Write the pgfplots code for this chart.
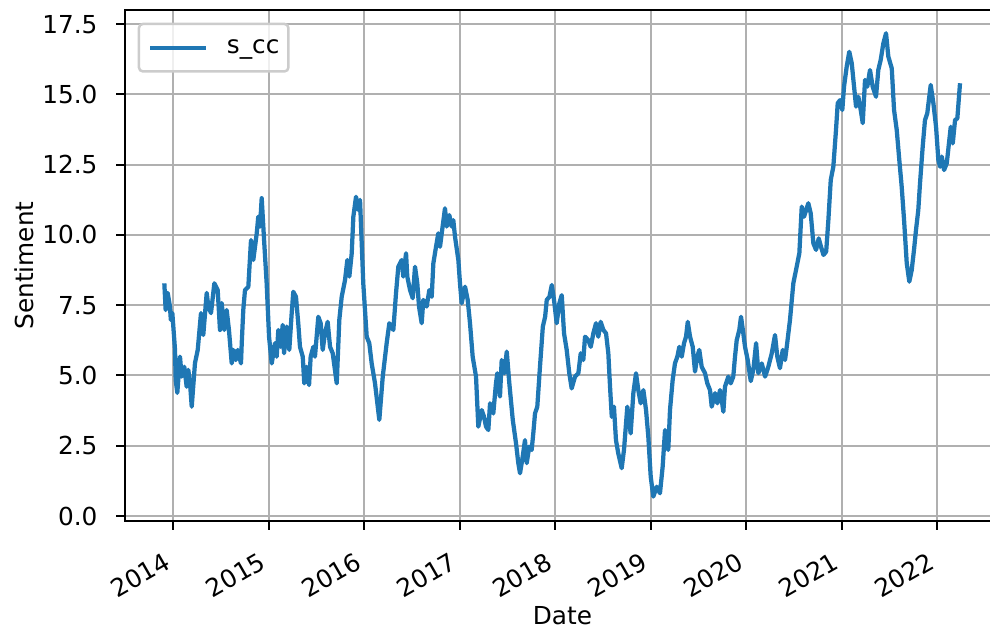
\documentclass[border=0pt]{standalone}
\usepackage{fontspec}
\setmainfont{DejaVu Sans}
\usepackage{pgfplots}
\pgfplotsset{compat=1.18}
\usetikzlibrary{calc}
\definecolor{tabblue}{RGB}{31,119,180}
\definecolor{gridgray}{RGB}{176,176,176}
\definecolor{legedge}{RGB}{204,204,204}
\pgfplotstableread{
x y
2013.906 8.28
2013.920 7.33
2013.941 7.94
2013.965 7.45
2013.974 6.98
2013.990 7.22
2014.018 5.91
2014.025 4.84
2014.042 4.38
2014.070 5.67
2014.088 4.96
2014.115 5.31
2014.140 4.60
2014.157 5.20
2014.175 4.73
2014.193 3.89
2014.227 5.44
2014.256 5.91
2014.290 7.22
2014.314 6.44
2014.350 7.94
2014.367 7.45
2014.395 7.22
2014.430 8.28
2014.465 8.04
2014.489 6.62
2014.507 7.58
2014.534 6.62
2014.559 7.33
2014.583 6.62
2014.612 5.43
2014.629 5.91
2014.654 5.55
2014.675 5.91
2014.709 5.43
2014.717 6.15
2014.733 7.33
2014.751 8.04
2014.786 8.16
2014.814 9.82
2014.838 9.11
2014.874 10.06
2014.890 10.65
2014.908 10.30
2014.926 11.31
2014.953 9.70
2014.978 8.28
2015.003 6.38
2015.031 5.43
2015.065 6.15
2015.083 5.67
2015.100 6.62
2015.125 6.02
2015.146 6.80
2015.160 5.79
2015.188 6.74
2015.215 5.91
2015.240 7.21
2015.257 7.98
2015.285 7.80
2015.309 6.86
2015.327 6.02
2015.356 5.67
2015.372 4.72
2015.397 5.31
2015.422 4.66
2015.439 5.67
2015.467 6.02
2015.484 5.67
2015.519 7.09
2015.544 6.86
2015.565 5.91
2015.589 6.50
2015.617 6.91
2015.642 6.02
2015.670 5.79
2015.712 4.72
2015.739 6.98
2015.764 7.80
2015.799 8.40
2015.823 9.11
2015.844 8.52
2015.869 9.35
2015.886 10.65
2015.914 11.36
2015.938 10.89
2015.956 11.25
2015.990 8.28
2016.026 6.38
2016.053 6.15
2016.078 5.43
2016.113 4.72
2016.158 3.42
2016.194 4.96
2016.235 6.15
2016.263 6.86
2016.305 6.62
2016.333 7.93
2016.357 8.87
2016.393 9.11
2016.409 8.52
2016.438 9.35
2016.451 8.52
2016.480 8.04
2016.508 7.75
2016.532 8.87
2016.556 8.28
2016.574 7.45
2016.602 6.86
2016.619 7.69
2016.654 7.45
2016.682 8.04
2016.707 7.80
2016.724 8.99
2016.752 9.58
2016.776 10.06
2016.794 9.58
2016.812 10.06
2016.846 10.95
2016.864 10.30
2016.891 10.71
2016.916 10.30
2016.933 10.53
2016.951 9.94
2016.986 9.11
2017.003 8.28
2017.021 7.57
2017.056 8.16
2017.084 7.69
2017.108 6.86
2017.136 5.67
2017.171 4.96
2017.195 3.18
2017.231 3.77
2017.255 3.53
2017.276 3.18
2017.300 3.06
2017.318 4.01
2017.352 3.65
2017.380 4.72
2017.394 5.08
2017.422 4.25
2017.440 5.55
2017.467 5.08
2017.493 5.85
2017.520 4.72
2017.556 3.42
2017.590 2.59
2017.614 1.88
2017.632 1.52
2017.660 2.11
2017.684 2.70
2017.702 1.88
2017.729 2.47
2017.754 2.35
2017.771 2.94
2017.789 3.65
2017.813 3.89
2017.841 5.31
2017.871 6.74
2017.895 7.09
2017.912 7.69
2017.940 7.80
2017.965 8.22
2017.988 7.69
2018.016 6.86
2018.044 7.57
2018.069 7.86
2018.093 6.50
2018.121 5.91
2018.148 5.08
2018.173 4.54
2018.208 4.96
2018.243 5.08
2018.268 5.79
2018.295 5.55
2018.313 6.38
2018.347 6.26
2018.373 6.02
2018.400 6.50
2018.428 6.86
2018.452 6.38
2018.477 6.91
2018.505 6.62
2018.533 6.50
2018.557 5.79
2018.575 4.60
2018.593 3.53
2018.616 3.89
2018.637 2.70
2018.661 2.23
2018.697 1.70
2018.721 2.35
2018.756 3.89
2018.791 2.94
2018.819 4.37
2018.847 5.08
2018.871 4.48
2018.896 4.01
2018.924 4.48
2018.952 3.77
2018.976 2.82
2019.001 1.40
2019.028 0.69
2019.064 1.04
2019.098 0.81
2019.126 1.75
2019.151 3.06
2019.185 2.35
2019.203 3.77
2019.231 4.84
2019.255 5.43
2019.280 5.67
2019.301 6.02
2019.326 5.67
2019.350 6.15
2019.371 6.38
2019.389 6.91
2019.413 6.38
2019.441 6.02
2019.465 5.14
2019.489 5.67
2019.510 5.91
2019.535 5.31
2019.570 5.08
2019.594 4.72
2019.622 4.48
2019.640 3.89
2019.675 4.37
2019.699 4.01
2019.727 4.48
2019.745 4.13
2019.762 3.71
2019.779 4.60
2019.814 4.96
2019.839 4.72
2019.866 4.96
2019.884 5.67
2019.902 6.26
2019.929 6.62
2019.947 7.09
2019.971 6.50
2019.989 6.02
2020.017 5.55
2020.049 4.80
2020.076 5.20
2020.105 6.15
2020.129 5.08
2020.164 5.43
2020.199 4.96
2020.233 5.31
2020.269 5.79
2020.303 6.44
2020.327 5.67
2020.355 5.26
2020.384 5.91
2020.408 5.55
2020.426 6.02
2020.460 6.98
2020.495 8.28
2020.530 8.87
2020.558 9.35
2020.583 11.01
2020.607 10.65
2020.652 11.13
2020.677 10.77
2020.705 9.70
2020.733 9.47
2020.761 9.88
2020.785 9.58
2020.811 9.29
2020.839 9.41
2020.862 10.53
2020.887 11.96
2020.914 12.43
2020.942 13.74
2020.960 14.69
2020.984 14.80
2021.008 14.45
2021.026 15.28
2021.054 15.99
2021.081 16.52
2021.107 16.11
2021.131 15.28
2021.152 14.57
2021.176 14.92
2021.201 14.45
2021.222 13.98
2021.246 15.52
2021.270 15.28
2021.298 15.87
2021.326 15.28
2021.361 14.92
2021.385 15.87
2021.410 16.23
2021.438 16.82
2021.466 17.18
2021.490 16.35
2021.526 15.93
2021.550 14.45
2021.578 13.74
2021.605 12.67
2021.630 11.72
2021.655 10.53
2021.683 8.99
2021.710 8.34
2021.735 8.75
2021.759 9.47
2021.780 10.18
2021.804 10.89
2021.822 11.84
2021.850 13.14
2021.874 14.09
2021.898 14.33
2021.934 15.34
2021.962 14.69
2021.990 13.85
2022.014 12.67
2022.032 12.43
2022.050 12.79
2022.074 12.31
2022.102 12.55
2022.129 13.38
2022.144 13.85
2022.165 13.26
2022.189 14.09
2022.213 14.15
2022.241 15.40
}\sentdata
\begin{document}
\begin{tikzpicture}[font=\fontsize{9.9}{11.9}\selectfont]
\begin{axis}[
  scale only axis, width=350pt, height=204.4pt,
  xmin=2013.494, xmax=2022.660, ymin=-0.178, ymax=18.007,
  xtick={2014,2015,2016,2017,2018,2019,2020,2021,2022},
  xticklabels={2014,2015,2016,2017,2018,2019,2020,2021,2022},
  ytick={0,2.5,5,7.5,10,12.5,15,17.5},
  axis line style={line width=0.8pt},
  tick style={line width=0.8pt, black},
  tick align=outside, tick pos=left, major tick length=3.46pt,
  grid=major, grid style={gridgray, line width=0.8pt},
  /pgf/number format/assume math mode=true,
  yticklabel style={/pgf/number format/fixed, /pgf/number format/fixed zerofill, /pgf/number format/precision=1, anchor=east, inner sep=0pt, xshift=-7.4pt},
  xticklabel style={inner sep=0pt, anchor=north east, xshift=-4.1pt, yshift=-8.4pt, rotate=30},
  xlabel={Date}, ylabel={Sentiment},
  every axis x label/.style={at={(axis description cs:0.5,-0.2035)}, anchor=base},
  every axis y label/.style={at={(axis description cs:-0.1051,0.5)}, rotate=90, anchor=base},
  legend style={at={(axis description cs:0.01451,0.97515)}, anchor=north west, draw=legedge, line width=1pt, rounded corners=1.6pt, fill=white, fill opacity=0.8, text opacity=1, inner xsep=3.6pt, inner ysep=4.5pt, nodes={inner sep=0pt, text height=0.75em, text depth=0.25em}, /tikz/every odd column/.append style={column sep=7.5pt}},
  legend cell align=left,
  legend image code/.code={\draw[#1] (0pt,0pt) -- (22.4pt,0pt);},
]
\addplot[tabblue, line width=1.7pt, line join=round] table[x=x, y=y] {\sentdata};
\addlegendentry{s\_cc}
\coordinate (sw) at (rel axis cs:0,0);
\coordinate (ne) at (rel axis cs:1,1);
\end{axis}
\pgfresetboundingbox
\path ($(sw)+(-50pt,-45.2pt)$) rectangle ($(ne)+(-4pt,4pt)$);
\end{tikzpicture}
\end{document}
